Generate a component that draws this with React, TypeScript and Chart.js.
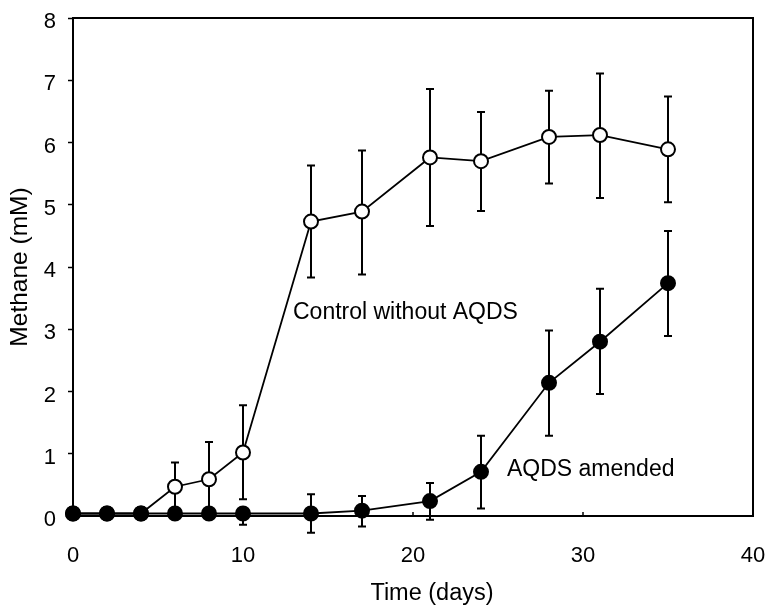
import React, { useEffect, useRef } from "react";
import { Chart, registerables } from "chart.js";

Chart.register(...registerables);

// Sampling times (days)
const days = [0, 2, 4, 6, 8, 10, 14, 17, 21, 24, 28, 31, 35];

// Control without AQDS (open circles)
const controlMean = [0.04, 0.04, 0.04, 0.47, 0.59, 1.02, 4.73, 4.89, 5.76, 5.7, 6.09, 6.12, 5.89];
const controlLow = [0.04, 0.04, 0.04, 0.08, 0.0, 0.27, 3.83, 3.88, 4.66, 4.9, 5.34, 5.11, 5.04];
const controlHigh = [0.04, 0.04, 0.04, 0.86, 1.19, 1.78, 5.63, 5.87, 6.86, 6.49, 6.83, 7.11, 6.74];

// AQDS amended (filled circles)
const aqdsMean = [0.04, 0.04, 0.04, 0.04, 0.04, 0.04, 0.04, 0.085, 0.24, 0.71, 2.14, 2.8, 3.74];
const aqdsLow = [0.04, 0.04, 0.04, 0.04, 0.04, -0.14, -0.27, -0.17, -0.06, 0.12, 1.29, 1.96, 2.89];
const aqdsHigh = [0.04, 0.04, 0.04, 0.04, 0.04, 0.04, 0.35, 0.32, 0.53, 1.29, 2.98, 3.65, 4.58];

// Axis settings
const xMin = 0;
const xMax = 40;
const xStep = 10;
const yMin = 0;
const yMax = 8;
const yStep = 1;

const xTitle = "Time (days)";
const yTitle = "Methane (mM)";

// In-plot labels (data coordinates of text start / baseline)
const annotationTexts = ["Control without AQDS", "AQDS amended"];
const annotationX = [12.94, 25.53];
const annotationY = [3.165, 0.65];

const FONT = '"Liberation Sans", Arial, Helvetica, sans-serif';

const errorBarPlugin = {
  id: "errorBarsAndFrame",
  beforeDatasetsDraw(chart: any) {
    const { ctx } = chart;
    const xs = chart.scales.x;
    const ys = chart.scales.y;
    const sets = [
      [aqdsLow, aqdsHigh],
      [controlLow, controlHigh],
    ];
    ctx.save();
    ctx.strokeStyle = "#000";
    ctx.lineWidth = 2;
    sets.forEach(([lo, hi]) => {
      days.forEach((d, i) => {
        if (hi[i] - lo[i] < 0.01) return;
        const px = xs.getPixelForValue(d);
        const y1 = ys.getPixelForValue(lo[i]);
        const y2 = ys.getPixelForValue(hi[i]);
        ctx.beginPath();
        ctx.moveTo(px, y1);
        ctx.lineTo(px, y2);
        ctx.moveTo(px - 4, y1);
        ctx.lineTo(px + 4, y1);
        ctx.moveTo(px - 4, y2);
        ctx.lineTo(px + 4, y2);
        ctx.stroke();
      });
    });
    ctx.restore();
  },
  afterDraw(chart: any) {
    const { ctx, chartArea } = chart;
    const xs = chart.scales.x;
    const ys = chart.scales.y;
    ctx.save();
    // top and right frame
    ctx.strokeStyle = "#000";
    ctx.lineWidth = 2;
    ctx.beginPath();
    ctx.moveTo(chartArea.left, chartArea.top);
    ctx.lineTo(chartArea.right, chartArea.top);
    ctx.lineTo(chartArea.right, chartArea.bottom);
    ctx.stroke();
    // inward x ticks
    ctx.lineWidth = 1.5;
    xs.ticks.forEach((t: any) => {
      const px = xs.getPixelForValue(t.value);
      ctx.beginPath();
      ctx.moveTo(px, chartArea.bottom);
      ctx.lineTo(px, chartArea.bottom - 4);
      ctx.stroke();
    });
    // annotations
    ctx.fillStyle = "#000";
    ctx.font = `23px ${FONT}`;
    ctx.textAlign = "left";
    ctx.textBaseline = "alphabetic";
    annotationTexts.forEach((txt, i) => {
      ctx.fillText(txt, xs.getPixelForValue(annotationX[i]), ys.getPixelForValue(annotationY[i]));
    });
    // x axis title
    ctx.font = `23.5px ${FONT}`;
    ctx.textAlign = "center";
    ctx.fillText(xTitle, (chartArea.left + chartArea.right) / 2 + 19, 600);
    ctx.restore();
  },
};

export default function App() {
  const canvasRef = useRef<HTMLCanvasElement | null>(null);

  useEffect(() => {
    if (!canvasRef.current) return;
    const chart = new Chart(canvasRef.current, {
      type: "scatter",
      data: {
        datasets: [
          {
            label: "AQDS amended",
            data: days.map((d, i) => ({ x: d, y: aqdsMean[i] })),
            showLine: true,
            borderColor: "#000",
            borderWidth: 1.8,
            pointRadius: 7,
            pointBorderWidth: 2,
            pointBorderColor: "#000",
            pointBackgroundColor: "#000",
            tension: 0,
            clip: false,
          },
          {
            label: "Control without AQDS",
            data: days.map((d, i) => ({ x: d, y: controlMean[i] })),
            showLine: true,
            borderColor: "#000",
            borderWidth: 1.8,
            pointRadius: 7,
            pointBorderWidth: 2,
            pointBorderColor: "#000",
            pointBackgroundColor: "#fff",
            tension: 0,
            clip: false,
          },
        ],
      },
      options: {
        animation: false,
        responsive: false,
        events: [],
        layout: { padding: { top: 18, right: 14, bottom: 0, left: 0 } },
        plugins: {
          legend: { display: false },
          tooltip: { enabled: false },
          title: { display: false },
        },
        scales: {
          x: {
            type: "linear",
            min: xMin,
            max: xMax,
            afterFit: (s: any) => {
              s.height = 89;
              s.paddingLeft = 0;
              s.paddingRight = 0;
            },
            ticks: {
              stepSize: xStep,
              padding: 27,
              color: "#000",
              font: { family: FONT, size: 22 },
            },
            grid: { display: true, drawOnChartArea: false, drawTicks: false },
            border: { display: true, color: "#000", width: 2 },
          },
          y: {
            type: "linear",
            min: yMin,
            max: yMax,
            afterFit: (s: any) => {
              s.width = 73;
              s.paddingTop = 0;
              s.paddingBottom = 0;
            },
            ticks: {
              stepSize: yStep,
              padding: 12,
              labelOffset: 4,
              color: "#000",
              font: { family: FONT, size: 22 },
            },
            grid: {
              display: true,
              drawOnChartArea: false,
              drawTicks: true,
              tickLength: 5,
              tickWidth: 1.5,
              tickColor: "#000",
            },
            border: { display: true, color: "#000", width: 2 },
            title: {
              display: true,
              text: yTitle,
              color: "#000",
              font: { family: FONT, size: 24.5 },
              padding: { top: 6, bottom: 0 },
            },
          },
        },
      },
      plugins: [errorBarPlugin],
    });
    return () => chart.destroy();
  }, []);

  return (
    <div style={{ position: "absolute", left: 0, top: 0, width: 767, height: 605 }}>
      <canvas ref={canvasRef} width={767} height={605} />
    </div>
  );
}
